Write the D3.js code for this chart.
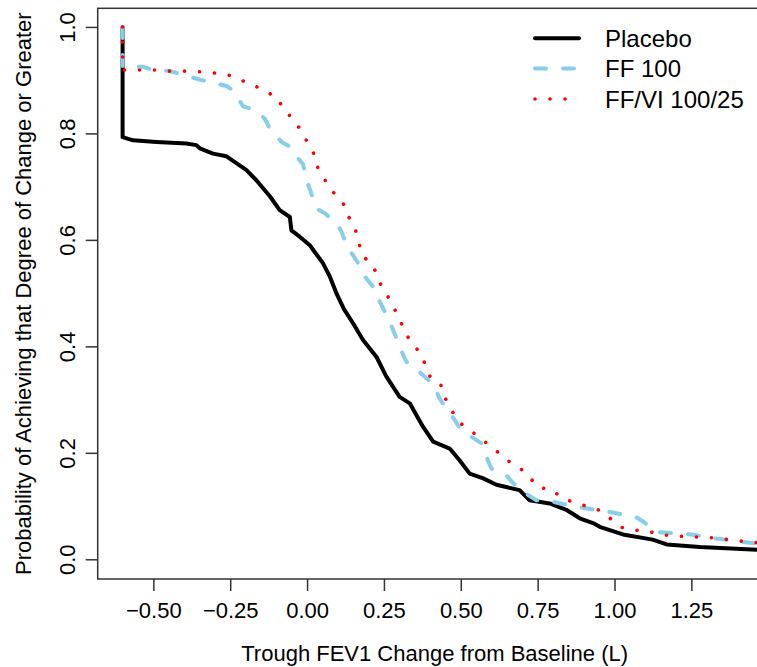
<!DOCTYPE html>
<html>
<head>
<meta charset="utf-8">
<script src="https://cdn.jsdelivr.net/npm/d3@7"></script>
<style>
  html, body { margin: 0; padding: 0; background: #fff; }
  svg { display: block; font-family: "Liberation Sans", Arial, sans-serif; }
</style>
</head>
<body>
<svg id="chart" width="757" height="667"></svg>
<script>
// ---- Data ----
const seriesNames = ["Placebo", "FF 100", "FF/VI 100/25"];

const placebo = [
  [-0.6,1.0],[-0.6,0.793],[-0.566,0.787],[-0.49,0.784],[-0.392,0.781],[-0.36,0.778],[-0.349,0.772],
  [-0.306,0.762],[-0.262,0.757],[-0.23,0.744],[-0.197,0.731],[-0.165,0.712],[-0.121,0.682],[-0.089,0.656],
  [-0.056,0.643],[-0.051,0.618],[-0.024,0.606],[0.009,0.59],[0.02,0.581],[0.052,0.556],[0.075,0.53],
  [0.096,0.499],[0.12,0.47],[0.15,0.443],[0.182,0.412],[0.226,0.38],[0.258,0.343],[0.301,0.305],
  [0.334,0.293],[0.377,0.249],[0.41,0.221],[0.464,0.208],[0.496,0.186],[0.529,0.161],[0.573,0.152],
  [0.616,0.14],[0.691,0.13],[0.724,0.111],[0.789,0.105],[0.843,0.093],[0.887,0.077],[0.93,0.068],
  [0.952,0.061],[1.032,0.046],[1.124,0.037],[1.17,0.028],[1.277,0.023],[1.47,0.018]
];

const ff100 = [
  [-0.6,1.0],[-0.6,0.925],[-0.533,0.925],[-0.5,0.919],[-0.446,0.917],[-0.414,0.912],[-0.349,0.901],
  [-0.316,0.897],[-0.262,0.889],[-0.241,0.881],[-0.208,0.851],[-0.176,0.845],[-0.138,0.828],[-0.121,0.809],
  [-0.083,0.784],[-0.056,0.775],[-0.029,0.753],[-0.013,0.742],[0.003,0.705],[0.012,0.69],[0.03,0.659],
  [0.058,0.65],[0.1,0.628],[0.112,0.615],[0.133,0.584],[0.15,0.571],[0.177,0.546],[0.188,0.531],
  [0.223,0.506],[0.231,0.49],[0.256,0.462],[0.269,0.446],[0.291,0.415],[0.301,0.399],[0.323,0.371],
  [0.345,0.363],[0.388,0.34],[0.41,0.33],[0.431,0.302],[0.448,0.287],[0.48,0.262],[0.496,0.247],
  [0.54,0.228],[0.567,0.218],[0.588,0.186],[0.599,0.171],[0.653,0.155],[0.67,0.143],[0.718,0.121],
  [0.746,0.111],[0.8,0.108],[0.832,0.104],[0.897,0.097],[0.984,0.089],[1.011,0.086],[1.071,0.079],
  [1.095,0.07],[1.138,0.051],[1.244,0.047],[1.331,0.039],[1.44,0.031],[1.47,0.029]
];

const ffvi = [
  [-0.6,1.0],[-0.6,0.919],[-0.544,0.919],[-0.495,0.919],[-0.446,0.917],[-0.403,0.917],[-0.354,0.916],
  [-0.311,0.914],[-0.262,0.911],[-0.219,0.901],[-0.176,0.891],[-0.138,0.88],[-0.094,0.866],[-0.078,0.845],
  [-0.046,0.828],[-0.024,0.809],[-0.002,0.787],[0.02,0.765],[0.029,0.742],[0.05,0.72],[0.073,0.699],
  [0.098,0.68],[0.128,0.661],[0.139,0.637],[0.158,0.618],[0.169,0.593],[0.182,0.569],[0.213,0.554],
  [0.229,0.531],[0.245,0.509],[0.269,0.488],[0.287,0.467],[0.305,0.446],[0.32,0.424],[0.345,0.404],
  [0.372,0.384],[0.388,0.36],[0.404,0.338],[0.44,0.325],[0.45,0.302],[0.47,0.28],[0.494,0.258],
  [0.527,0.243],[0.561,0.23],[0.594,0.213],[0.626,0.199],[0.659,0.183],[0.697,0.169],[0.727,0.152],
  [0.751,0.135],[0.798,0.131],[0.827,0.115],[0.868,0.107],[0.914,0.099],[0.957,0.091],[0.99,0.075],
  [1.022,0.06],[1.067,0.055],[1.113,0.052],[1.152,0.046],[1.199,0.044],[1.245,0.042],[1.293,0.042],
  [1.339,0.039],[1.385,0.036],[1.43,0.033],[1.47,0.031]
];

const xTicks = [-0.5, -0.25, 0, 0.25, 0.5, 0.75, 1.0, 1.25];
const yTicks = [0, 0.2, 0.4, 0.6, 0.8, 1.0];
const xTitle = "Trough FEV1 Change from Baseline (L)";
const yTitle = "Probability of Achieving that Degree of Change or Greater";

// ---- Layout ----
const svg = d3.select("#chart");
const plotL = 97.7, plotT = 8.3, plotB = 579, plotR = 771.6;
const FONT = 22;

const x = d3.scaleLinear().domain([-0.681, 1.511]).range([plotL, plotR]);
const y = d3.scaleLinear().domain([-0.037, 1.035]).range([plotB, plotT]);

svg.append("defs").append("clipPath").attr("id", "clip")
  .append("rect").attr("x", plotL).attr("y", plotT)
  .attr("width", plotR - plotL).attr("height", plotB - plotT);

// Curves
const line = d3.line().x(d => x(d[0])).y(d => y(d[1])).curve(d3.curveLinear);
const styles = [
  { data: placebo, color: "#000000", width: 4,   dash: null,      cap: "round" },
  { data: ff100,   color: "#87CEEB", width: 4,   dash: "11,17",   cap: "round" },
  { data: ffvi,    color: "#FF0000", width: 3.6, dash: "0.01,15", cap: "round" }
];
const g = svg.append("g").attr("clip-path", "url(#clip)");
styles.forEach(s => {
  g.append("path").datum(s.data)
    .attr("d", line)
    .attr("fill", "none")
    .attr("stroke", s.color)
    .attr("stroke-width", s.width)
    .attr("stroke-linecap", s.cap)
    .attr("stroke-linejoin", "round")
    .attr("stroke-dasharray", s.dash);
});

// Box
svg.append("rect")
  .attr("x", plotL).attr("y", plotT)
  .attr("width", plotR - plotL).attr("height", plotB - plotT)
  .attr("fill", "none").attr("stroke", "#333").attr("stroke-width", 1.5);

// X axis
const xAxis = svg.append("g").attr("transform", `translate(0,${plotB})`)
  .call(d3.axisBottom(x).tickValues(xTicks).tickSize(12).tickPadding(11).tickFormat(d3.format(".2f")));
xAxis.select(".domain").remove();
xAxis.selectAll(".tick line").attr("stroke", "#333").attr("stroke-width", 1.5);
xAxis.selectAll(".tick text").attr("font-size", FONT).attr("fill", "#000")
  .attr("font-family", "Liberation Sans, Arial, sans-serif");

// Y axis (rotated labels, like R las=0)
const yAxis = svg.append("g").attr("transform", `translate(${plotL},0)`)
  .call(d3.axisLeft(y).tickValues(yTicks).tickSize(12).tickFormat(d3.format(".1f")));
yAxis.select(".domain").remove();
yAxis.selectAll(".tick line").attr("stroke", "#333").attr("stroke-width", 1.5);
yAxis.selectAll(".tick text")
  .attr("font-size", FONT).attr("fill", "#000")
  .attr("font-family", "Liberation Sans, Arial, sans-serif")
  .attr("x", null).attr("dy", null)
  .attr("text-anchor", "middle")
  .attr("transform", "translate(-23,0) rotate(-90)")
  .attr("y", 0);

// Axis titles
svg.append("text")
  .attr("x", (plotL + plotR) / 2).attr("y", 661)
  .attr("text-anchor", "middle").attr("font-size", FONT).attr("fill", "#000")
  .text(xTitle);
svg.append("text")
  .attr("transform", `translate(31,${(plotT + plotB) / 2}) rotate(-90)`)
  .attr("text-anchor", "middle").attr("font-size", FONT).attr("fill", "#000")
  .text(yTitle);

// Legend
const legY = [38.3, 68.5, 99];
const leg = svg.append("g");
styles.forEach((s, i) => {
  leg.append("line")
    .attr("x1", 535).attr("x2", 579).attr("y1", legY[i]).attr("y2", legY[i])
    .attr("stroke", s.color).attr("stroke-width", s.width)
    .attr("stroke-linecap", s.cap)
    .attr("stroke-dasharray", s.dash);
  leg.append("text")
    .attr("x", 605).attr("y", legY[i]).attr("dy", "0.36em")
    .attr("font-size", 24).attr("fill", "#000")
    .text(seriesNames[i]);
});
</script>
</body>
</html>
